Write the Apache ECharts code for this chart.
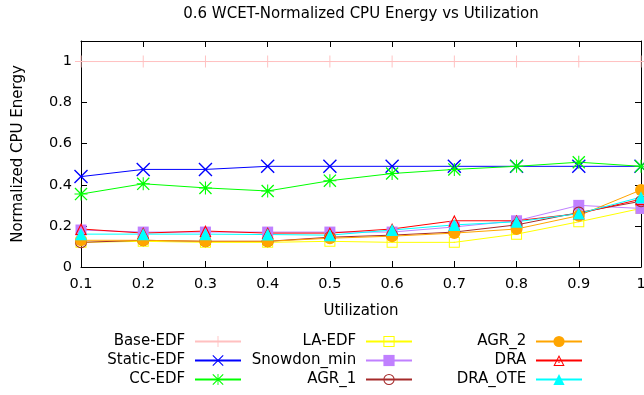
<!DOCTYPE html>
<html>
<head>
<meta charset="utf-8">
<script src="https://cdn.jsdelivr.net/npm/echarts@6/dist/echarts.min.js"></script>
<style>
  html, body { margin: 0; padding: 0; background: #fff; }
  #chart { width: 644px; height: 395px; }
</style>
</head>
<body>
<div id="chart"></div>
<script>
// Utilization levels (x axis)
const utilization = [0.1, 0.2, 0.3, 0.4, 0.5, 0.6, 0.7, 0.8, 0.9, 1.0];

// Normalized CPU energy per scheduler
const baseEdf    = [1, 1, 1, 1, 1, 1, 1, 1, 1, 1];
const staticEdf  = [0.44, 0.475, 0.475, 0.49, 0.49, 0.49, 0.49, 0.49, 0.49, 0.49];
const ccEdf      = [0.355, 0.405, 0.385, 0.37, 0.42, 0.455, 0.475, 0.49, 0.51, 0.49];
const laEdf      = [0.12, 0.125, 0.12, 0.12, 0.125, 0.12, 0.12, 0.16, 0.22, 0.285];
const snowdonMin = [0.18, 0.17, 0.17, 0.17, 0.17, 0.17, 0.195, 0.225, 0.30, 0.285];
const agr1       = [0.12, 0.13, 0.125, 0.125, 0.145, 0.155, 0.17, 0.205, 0.265, 0.32];
const agr2       = [0.13, 0.13, 0.125, 0.125, 0.14, 0.15, 0.165, 0.185, 0.25, 0.375];
const dra        = [0.185, 0.165, 0.175, 0.165, 0.165, 0.185, 0.225, 0.225, 0.26, 0.33];
const draOte     = [0.16, 0.16, 0.16, 0.158, 0.155, 0.18, 0.205, 0.22, 0.26, 0.34];

// Axis ticks
const xTicks = { min: 0.1, max: 1.0, step: 0.1 };
const yTicks = { min: 0, max: 1.1, step: 0.2 };

// Point shapes drawn as filled outlines (transparent interiors)
const PLUS  = 'path://M0,46H100V54H0Z M46,0H54V100H46Z';
const CROSS = 'path://M0,7L7,0L100,93L93,100Z M93,0L100,7L7,100L0,93Z';
const STAR  = 'path://M0,46H100V54H0Z M46,0H54V100H46Z M0,7L7,0L100,93L93,100Z M93,0L100,7L7,100L0,93Z';
const OPEN_SQUARE = 'path://M0,0H100V100H0Z M9,9V91H91V9Z M45,45H55V55H45Z';
const OPEN_CIRCLE = 'path://M50,0A50,50 0 1,1 50,100A50,50 0 1,1 50,0Z M50,9A41,41 0 1,0 50,91A41,41 0 1,0 50,9Z M45,45H55V55H45Z';
const OPEN_TRIANGLE = 'path://M50,0L100,100L0,100Z M50,20L14.6,91L85.4,91Z M45,62H55V72H45Z';

const FONT = 'DejaVu Sans';

function pairs(values) {
  return utilization.map((u, i) => [u, values[i]]);
}

function makeSeries(name, values, color, symbol, size) {
  return {
    name: name,
    type: 'line',
    data: pairs(values),
    symbol: symbol,
    symbolSize: size,
    showSymbol: true,
    clip: false,
    color: color,
    lineStyle: { width: 1, color: color },
    itemStyle: { color: color },
    emphasis: { disabled: true },
    animation: false
  };
}

const series = [
  makeSeries('Base-EDF',    baseEdf,    '#ffc0c0', PLUS, 12),
  makeSeries('Static-EDF',  staticEdf,  '#0000ff', CROSS, 14),
  makeSeries('CC-EDF',      ccEdf,      '#00ff00', STAR, 13),
  makeSeries('LA-EDF',      laEdf,      '#ffff00', OPEN_SQUARE, 11),
  makeSeries('Snowdon_min', snowdonMin, '#c080ff', 'rect', 11),
  makeSeries('AGR_1',       agr1,       '#a52a2a', OPEN_CIRCLE, 12),
  makeSeries('AGR_2',       agr2,       '#ffa500', 'circle', 12),
  makeSeries('DRA',         dra,        '#ff0000', OPEN_TRIANGLE, 12),
  makeSeries('DRA_OTE',     draOte,     '#00ffff', 'triangle', 12)
];

function legendColumn(names, right) {
  return {
    data: names,
    orient: 'vertical',
    align: 'right',
    right: right,
    top: 334,
    padding: 0,
    itemWidth: 46,
    itemHeight: 14,
    itemGap: 4,
    selectedMode: false,
    formatter: name => name + ' ',
    textStyle: { fontFamily: FONT, fontSize: 15, color: '#000', lineHeight: 14 }
  };
}

const axisLine = { show: true, onZero: false, lineStyle: { color: '#000', width: 1 } };
const axisTick = { show: true, inside: true, length: 6, lineStyle: { color: '#000', width: 1 } };
const labelStyle = { fontFamily: FONT, fontSize: 14.5, color: '#000' };
const nameStyle = { fontFamily: FONT, fontSize: 15, color: '#000' };

const option = {
  backgroundColor: '#fff',
  animation: false,
  title: {
    text: '0.6 WCET-Normalized CPU Energy vs Utilization',
    left: 361,
    top: 7,
    padding: 0,
    textAlign: 'center',
    textStyle: { fontFamily: FONT, fontSize: 15, fontWeight: 'normal', color: '#000' }
  },
  legend: [
    legendColumn(['Base-EDF', 'Static-EDF', 'CC-EDF'], 402),
    legendColumn(['LA-EDF', 'Snowdon_min', 'AGR_1'], 231),
    legendColumn(['AGR_2', 'DRA', 'DRA_OTE'], 61)
  ],
  grid: { left: 81, right: 3, top: 41, bottom: 128, containLabel: false, outerBoundsMode: 'none' },
  xAxis: [
    {
      type: 'value',
      position: 'bottom',
      min: xTicks.min, max: xTicks.max, interval: xTicks.step,
      name: 'Utilization',
      nameLocation: 'middle',
      nameGap: 37,
      nameTextStyle: nameStyle,
      axisLine: axisLine,
      axisTick: axisTick,
      axisLabel: Object.assign({ margin: 10 }, labelStyle),
      splitLine: { show: false }
    },
    {
      type: 'value',
      position: 'top',
      min: xTicks.min, max: xTicks.max, interval: xTicks.step,
      axisLine: axisLine,
      axisTick: axisTick,
      axisLabel: { show: false },
      splitLine: { show: false }
    }
  ],
  yAxis: [
    {
      type: 'value',
      position: 'left',
      min: yTicks.min, max: yTicks.max, interval: yTicks.step,
      name: 'Normalized CPU Energy',
      nameLocation: 'middle',
      nameGap: 55,
      nameTextStyle: nameStyle,
      axisLine: axisLine,
      axisTick: axisTick,
      axisLabel: Object.assign({ margin: 9, showMaxLabel: false }, labelStyle),
      splitLine: { show: false }
    },
    {
      type: 'value',
      position: 'right',
      min: yTicks.min, max: yTicks.max, interval: yTicks.step,
      axisLine: axisLine,
      axisTick: axisTick,
      axisLabel: { show: false },
      splitLine: { show: false }
    }
  ],
  series: series
};

const chart = echarts.init(document.getElementById('chart'), null, { renderer: 'canvas' });
chart.setOption(option);
</script>
</body>
</html>
